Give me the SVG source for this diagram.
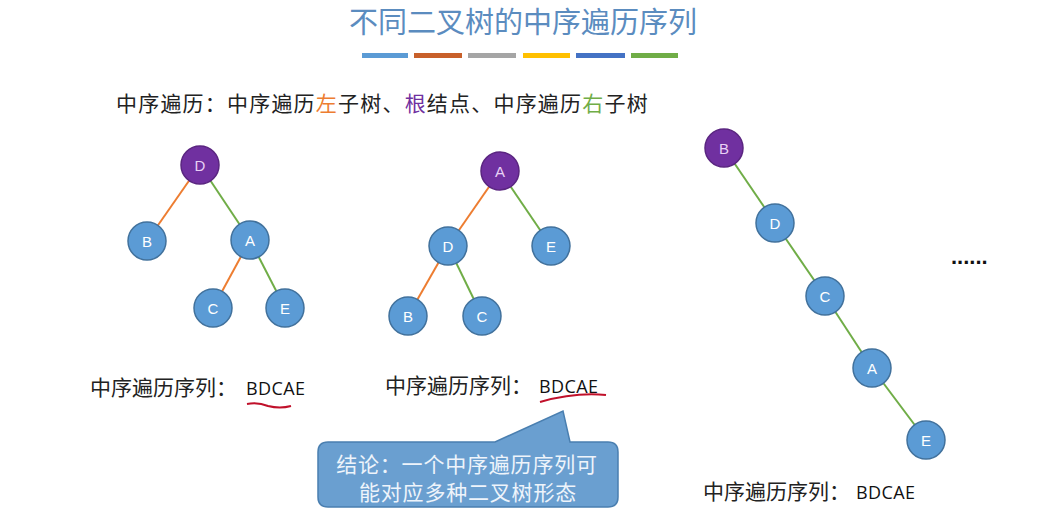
<svg xmlns="http://www.w3.org/2000/svg" width="1039" height="526" viewBox="0 0 1039 526">
<style>
.n{fill:#5b9bd5;stroke:#41719c;stroke-width:1.5}
.r{fill:#7030a0;stroke:#5a2580;stroke-width:1.5}
.t{font-family:"Liberation Sans","Open Sans",sans-serif;font-size:15px;fill:#fff;text-anchor:middle;dominant-baseline:central}
.rt{fill:#e8d0f5}
.L{stroke:#ed7d31;stroke-width:2}
.R{stroke:#70ad47;stroke-width:2}
.cn{font-family:"Noto Sans CJK SC","Liberation Sans",sans-serif;font-size:21px;fill:#222}
.seq{font-family:"Open Sans","Liberation Sans",sans-serif;font-size:18px;fill:#111;letter-spacing:0.4px}
.co{font-family:"Noto Sans CJK SC",sans-serif;font-size:21px;fill:#eef4fb;text-anchor:middle;letter-spacing:0.8px}
</style>
<rect width="1039" height="526" fill="#fff"/>
<text x="523" y="33" text-anchor="middle" font-family="'Noto Sans CJK SC',sans-serif" font-size="29" fill="#5b8cbf">不同二叉树的中序遍历序列</text>
<g id="bars">
<rect x="362" y="53" width="46" height="5" fill="#5b9bd5"/>
<rect x="414" y="53" width="48" height="5" fill="#c8602a"/>
<rect x="468" y="53" width="48" height="5" fill="#a5a5a5"/>
<rect x="523" y="53" width="47" height="5" fill="#ffc000"/>
<rect x="576" y="53" width="49" height="5" fill="#4472c4"/>
<rect x="631" y="53" width="47" height="5" fill="#70ad47"/>
</g>
<text x="116" y="111" class="cn" font-size="22" letter-spacing="1.2">中序遍历：中序遍历<tspan fill="#ed7d31">左</tspan>子树、<tspan fill="#7030a0">根</tspan>结点、中序遍历<tspan fill="#70ad47">右</tspan>子树</text>
<g id="connectors">
<line class="L" x1="200" y1="165" x2="147" y2="241"/>
<line class="R" x1="200" y1="165" x2="250" y2="240"/>
<line class="L" x1="250" y1="240" x2="213" y2="308"/>
<line class="R" x1="250" y1="240" x2="285" y2="308"/>
<line class="L" x1="500" y1="171" x2="448" y2="246"/>
<line class="R" x1="500" y1="171" x2="551" y2="246"/>
<line class="L" x1="448" y1="246" x2="408" y2="316"/>
<line class="R" x1="448" y1="246" x2="482" y2="316"/>
<line class="R" x1="724" y1="148" x2="775" y2="223"/>
<line class="R" x1="775" y1="223" x2="825" y2="296"/>
<line class="R" x1="825" y1="296" x2="872" y2="368"/>
<line class="R" x1="872" y1="368" x2="926" y2="440"/>
</g>
<g id="t1-D"><circle class="r" cx="200" cy="165" r="19"/><text class="t rt" x="200" y="165">D</text></g>
<g id="t1-B"><circle class="n" cx="147" cy="241" r="19"/><text class="t" x="147" y="241">B</text></g>
<g id="t1-A"><circle class="n" cx="250" cy="240" r="19"/><text class="t" x="250" y="240">A</text></g>
<g id="t1-C"><circle class="n" cx="213" cy="308" r="19"/><text class="t" x="213" y="308">C</text></g>
<g id="t1-E"><circle class="n" cx="285" cy="308" r="19"/><text class="t" x="285" y="308">E</text></g>
<g id="t2-A"><circle class="r" cx="500" cy="171" r="19"/><text class="t rt" x="500" y="171">A</text></g>
<g id="t2-D"><circle class="n" cx="448" cy="246" r="19"/><text class="t" x="448" y="246">D</text></g>
<g id="t2-E"><circle class="n" cx="551" cy="246" r="19"/><text class="t" x="551" y="246">E</text></g>
<g id="t2-B"><circle class="n" cx="408" cy="316" r="19"/><text class="t" x="408" y="316">B</text></g>
<g id="t2-C"><circle class="n" cx="482" cy="316" r="19"/><text class="t" x="482" y="316">C</text></g>
<g id="t3-B"><circle class="r" cx="724" cy="148" r="19"/><text class="t rt" x="724" y="148">B</text></g>
<g id="t3-D"><circle class="n" cx="775" cy="223" r="19"/><text class="t" x="775" y="223">D</text></g>
<g id="t3-C"><circle class="n" cx="825" cy="296" r="19"/><text class="t" x="825" y="296">C</text></g>
<g id="t3-A"><circle class="n" cx="872" cy="368" r="19"/><text class="t" x="872" y="368">A</text></g>
<g id="t3-E"><circle class="n" cx="926" cy="440" r="19"/><text class="t" x="926" y="440">E</text></g>
<text x="951" y="264" font-family="'Liberation Sans',sans-serif" font-size="22" font-weight="bold" fill="#111">......</text>
<text x="90" y="395" class="cn">中序遍历序列：<tspan class="seq" dx="9">BDCAE</tspan></text>
<text x="385" y="393" class="cn">中序遍历序列：<tspan class="seq" dx="7">BDCAE</tspan></text>
<text x="703" y="499" class="cn">中序遍历序列：<tspan class="seq" dx="6">BDCAE</tspan></text>
<path d="M247 404 Q258 402 268 406 Q280 409 291 406" fill="none" stroke="#c0102a" stroke-width="2"/>
<path d="M540 402 Q575 392 606 395" fill="none" stroke="#c0102a" stroke-width="2"/>
<g id="callout">
<path d="M328 442 H495 L563 411 L570 442 H608 Q618 442 618 452 V497 Q618 507 608 507 H328 Q318 507 318 497 V452 Q318 442 328 442 Z" fill="#6a9fd0" stroke="#4a7fb0" stroke-width="1.5"/>
<text x="467" y="472" class="co">结论：一个中序遍历序列可</text>
<text x="468" y="500" class="co">能对应多种二叉树形态</text>
</g>
</svg>
